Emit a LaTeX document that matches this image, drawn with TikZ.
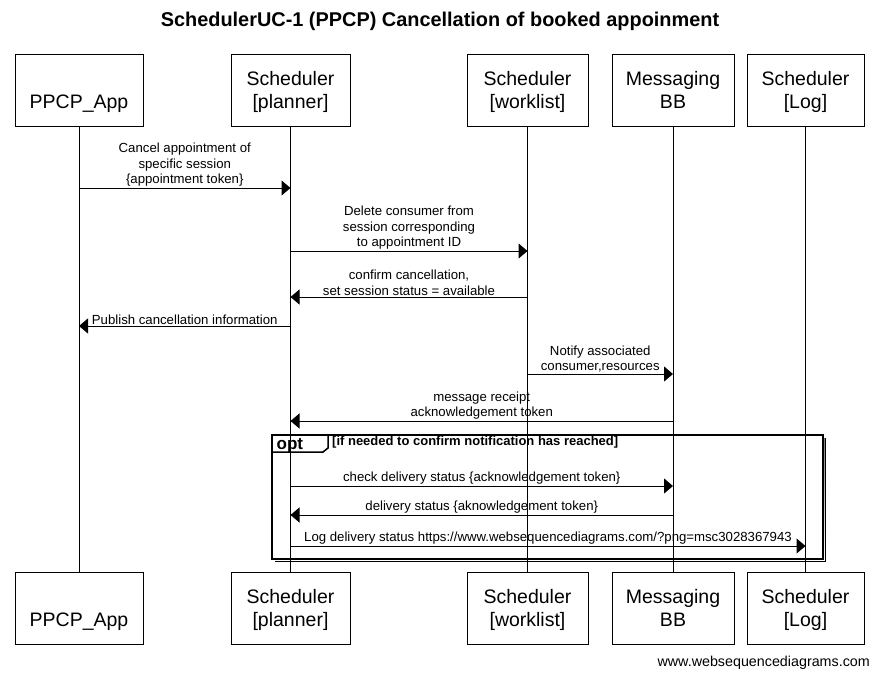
\documentclass[tikz,border=0pt]{standalone}
\usepackage{fontspec}
\setmainfont{Liberation Sans}
\usetikzlibrary{arrows.meta,calc}
\definecolor{shade}{HTML}{C8C8C8}
\newcommand\tallstrut{\rule[0pt]{0pt}{21pt}}

\tikzset{
  actor/.style={draw,line width=1pt,minimum height=72pt,inner sep=0pt,
    align=center,font=\fontsize{19.5}{23}\selectfont},
  msg/.style={-{Triangle[length=9pt,width=15pt]},line width=1pt},
  lbl/.style={align=center,inner sep=1pt,font=\fontsize{13.2}{15.5}\selectfont},
  lifeline/.style={line width=1pt},
}

\begin{document}
\begin{tikzpicture}[x=1pt,y=-1pt]
  \useasboundingbox[fill=white] (0,0) rectangle (879,680);
  \node[font=\bfseries\fontsize{19.9}{23}\selectfont] (title) at (440,21)
    {SchedulerUC-1 (PPCP) Cancellation of booked appoinment};

  % participants, top and bottom
  \node[actor,minimum width=128pt] (app)  at (79,90)  {\tallstrut\\\strut PPCP\_App};
  \node[actor,minimum width=119pt] (plan) at (290.5,90) {\tallstrut Scheduler\\\strut[planner]};
  \node[actor,minimum width=121pt] (work) at (527.5,90) {\tallstrut Scheduler\\\strut[worklist]};
  \node[actor,minimum width=122pt] (bb)   at (673,90) {\tallstrut Messaging\\\strut BB};
  \node[actor,minimum width=117pt] (log)  at (805.5,90) {\tallstrut Scheduler\\\strut[Log]};
  \node[actor,minimum width=128pt] (appB)  at (79,608)  {\tallstrut\\\strut PPCP\_App};
  \node[actor,minimum width=119pt] (planB) at (290.5,608) {\tallstrut Scheduler\\\strut[planner]};
  \node[actor,minimum width=121pt] (workB) at (527.5,608) {\tallstrut Scheduler\\\strut[worklist]};
  \node[actor,minimum width=122pt] (bbB)   at (673,608) {\tallstrut Messaging\\\strut BB};
  \node[actor,minimum width=117pt] (logB)  at (805.5,608) {\tallstrut Scheduler\\\strut[Log]};

  % opt frame
  \draw[shade,line width=1pt] (275,561) -- (825,561) -- (825,438);
  \draw[line width=2pt,fill=white] (272,435) rectangle (823,559);
  \draw[line width=1.5pt] (272,452) -- (323,452) -- (328,448) -- (328,435);
  \node[anchor=base west,font=\bfseries\fontsize{17}{19}\selectfont,inner sep=0pt] (opt)
    at (276.5,449) {opt};
  \node[anchor=west,inner sep=0pt,font=\bfseries\fontsize{13}{15}\selectfont] (cond)
    at (332,442) {[if needed to confirm notification has reached]};

  % lifelines
  \foreach \p in {app,plan,work,bb,log}
    \draw[lifeline] (\p.south) -- (\p B.north);

  % messages
  \draw[msg] (app |- 0,188) -- (plan |- 0,188) node[lbl,midway,above]
    {Cancel appointment of\\specific session\\\{appointment token\}};
  \draw[msg] (plan |- 0,251) -- (work |- 0,251) node[lbl,midway,above]
    {Delete consumer from\\session corresponding\\to appointment ID};
  \draw[msg] (work |- 0,297) -- (plan |- 0,297) node[lbl,midway,above]
    {confirm cancellation,\\set session status = available};
  \draw[msg] (plan |- 0,326) -- (app |- 0,326) node[lbl,midway,above]
    {Publish cancellation information};
  \draw[msg] (work |- 0,374) -- (bb |- 0,374) node[lbl,midway,above]
    {Notify associated\\consumer,resources};
  \draw[msg] (bb |- 0,421) -- (plan |- 0,421) node[lbl,midway,above]
    {message receipt\\acknowledgement token};
  \draw[msg] (plan |- 0,486) -- (bb |- 0,486) node[lbl,midway,above]
    {check delivery status \{acknowledgement token\}};
  \draw[msg] (bb |- 0,515) -- (plan |- 0,515) node[lbl,midway,above]
    {delivery status \{aknowledgement token\}};
  \draw[msg] (plan |- 0,546) -- (log |- 0,546) node[lbl,midway,above]
    {Log delivery status https://www.websequencediagrams.com/?png=msc3028367943};

  \node[anchor=east,inner sep=0pt,font=\fontsize{14.3}{16}\selectfont] (credit)
    at (870,663) {www.websequencediagrams.com};
\end{tikzpicture}
\end{document}
